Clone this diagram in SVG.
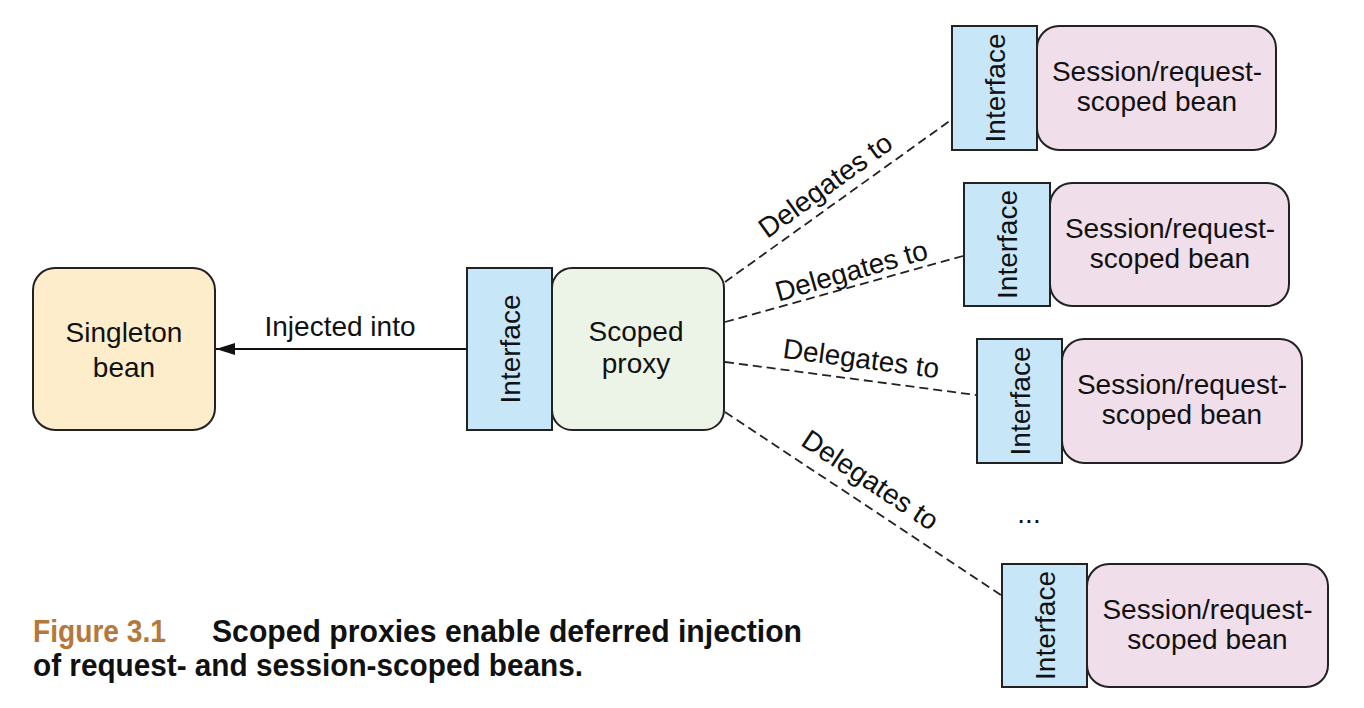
<svg xmlns="http://www.w3.org/2000/svg" width="1364" height="708" viewBox="0 0 1364 708">
<style>
  text { font-family: "Liberation Sans", Arial, sans-serif; font-size: 28px; fill: #111; }
  .c { text-anchor: middle; }
  .box { stroke: #222; stroke-width: 2; }
  .iface { fill: #c7e7f8; }
  .sess { fill: #f0dfea; }
  .dash { fill: none; stroke: #222; stroke-width: 1.8; stroke-dasharray: 9 5; }
  .cap { font-family: "Liberation Sans Narrow", "Liberation Sans", Arial, sans-serif; font-weight: bold; font-size: 31px; }
</style>
<defs>
  <marker id="arr" markerWidth="20" markerHeight="14" refX="19" refY="7" orient="auto" markerUnits="userSpaceOnUse">
    <path d="M0,1 L19,7 L0,13 Z" fill="#111"/>
  </marker>
</defs>
<rect width="1364" height="708" fill="#fff"/>

<g id="connectors">
  <line x1="467" y1="349" x2="216" y2="349" stroke="#111" stroke-width="2" marker-end="url(#arr)"/>
  <text class="c" x="340" y="336">Injected into</text>
  <line class="dash" x1="725" y1="282" x2="951" y2="120"/>
  <line class="dash" x1="725" y1="322" x2="963" y2="256"/>
  <line class="dash" x1="725" y1="362" x2="976" y2="395"/>
  <line class="dash" x1="725" y1="412" x2="1001" y2="595"/>
  <text class="c" transform="translate(831,193) rotate(-35.8)">Delegates to</text>
  <text class="c" transform="translate(854,280) rotate(-16)">Delegates to</text>
  <text class="c" transform="translate(860,368) rotate(7.5)">Delegates to</text>
  <text class="c" transform="translate(865,488) rotate(33.5)">Delegates to</text>
</g>

<g id="singleton">
  <rect class="box" x="33" y="268" width="182" height="162" rx="22" fill="#feedca"/>
  <text class="c" x="124" y="342">Singleton</text>
  <text class="c" x="124" y="377">bean</text>
</g>

<g id="proxy">
  <rect class="box" x="552" y="268" width="172" height="162" rx="20" fill="#ecf4e8"/>
  <rect class="box iface" x="467" y="268" width="85" height="162"/>
  <text class="c" transform="translate(519.5,349) rotate(-90)">Interface</text>
  <text class="c" x="636" y="341">Scoped</text>
  <text class="c" x="636" y="373">proxy</text>
</g>

<g id="bean1">
  <rect class="box sess" x="1037" y="26" width="239" height="124" rx="22"/>
  <rect class="box iface" x="952" y="26" width="85" height="124"/>
  <text class="c" transform="translate(1004.5,88) rotate(-90)">Interface</text>
  <text class="c" x="1157" y="81">Session/request-</text>
  <text class="c" x="1157" y="111">scoped bean</text>
</g>

<g id="bean2">
  <rect class="box sess" x="1050" y="183" width="239" height="123" rx="22"/>
  <rect class="box iface" x="964" y="183" width="86" height="123"/>
  <text class="c" transform="translate(1017,244.5) rotate(-90)">Interface</text>
  <text class="c" x="1170" y="238">Session/request-</text>
  <text class="c" x="1170" y="268">scoped bean</text>
</g>

<g id="bean3">
  <rect class="box sess" x="1062" y="339" width="240" height="124" rx="22"/>
  <rect class="box iface" x="977" y="339" width="85" height="124"/>
  <text class="c" transform="translate(1029.5,401) rotate(-90)">Interface</text>
  <text class="c" x="1182" y="394">Session/request-</text>
  <text class="c" x="1182" y="424">scoped bean</text>
</g>

<g id="ellipsis">
  <text class="c" x="1029" y="523">...</text>
</g>

<g id="bean4">
  <rect class="box sess" x="1087" y="564" width="241" height="123" rx="22"/>
  <rect class="box iface" x="1002" y="564" width="85" height="123"/>
  <text class="c" transform="translate(1054.5,625.5) rotate(-90)">Interface</text>
  <text class="c" x="1207.5" y="619">Session/request-</text>
  <text class="c" x="1207.5" y="649">scoped bean</text>
</g>

<g id="caption">
  <text class="cap" x="33" y="642" style="fill:#b5773c" textLength="133" lengthAdjust="spacingAndGlyphs">Figure 3.1</text>
  <text class="cap" x="212" y="642" textLength="590" lengthAdjust="spacingAndGlyphs">Scoped proxies enable deferred injection</text>
  <text class="cap" x="33" y="676" textLength="550" lengthAdjust="spacingAndGlyphs">of request- and session-scoped beans.</text>
</g>
</svg>
